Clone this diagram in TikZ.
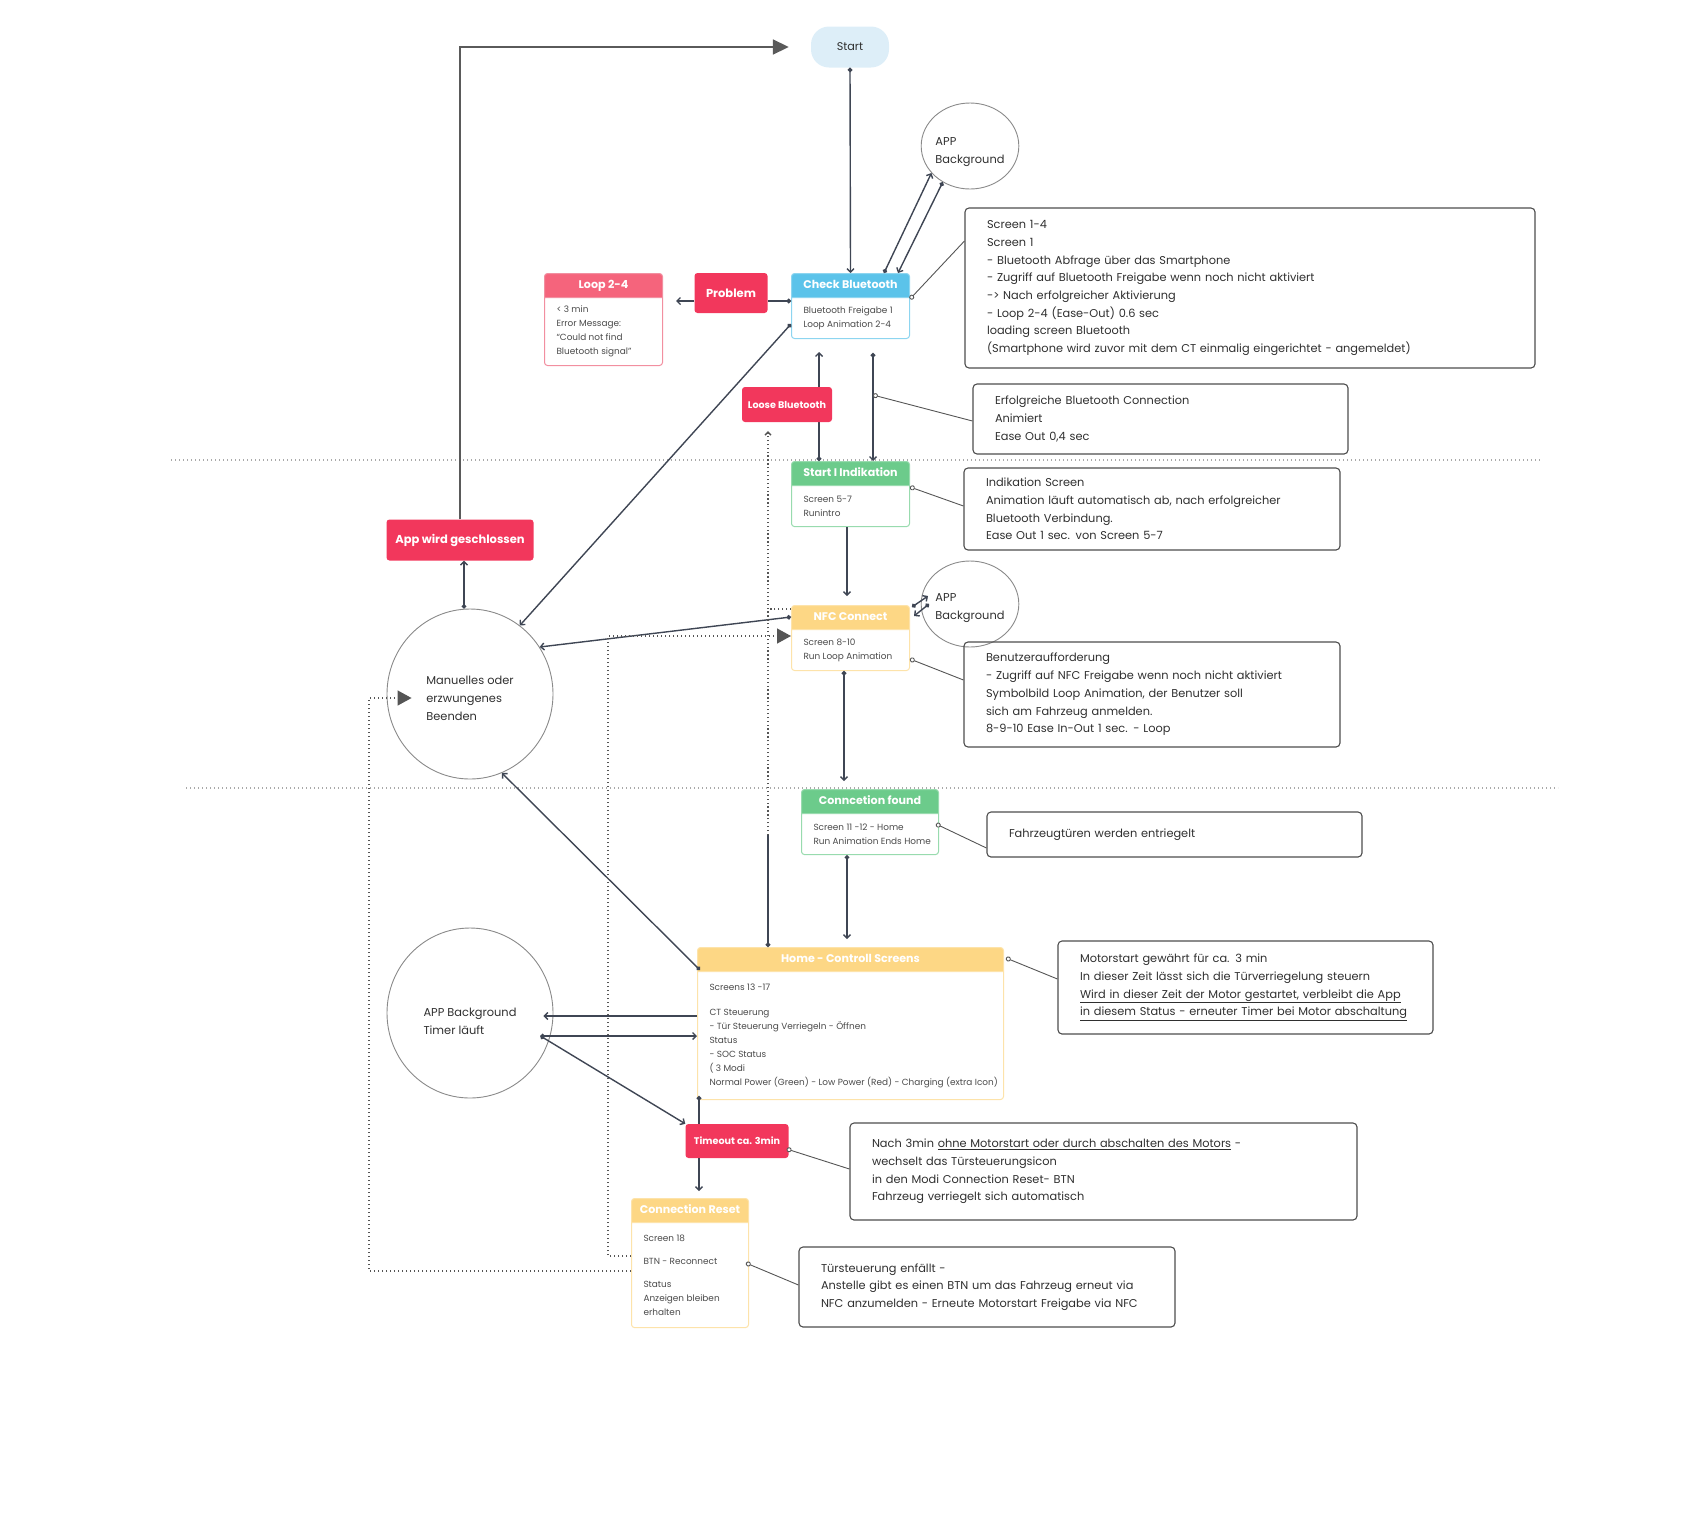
\documentclass[tikz,border=0pt]{standalone}
\usepackage{fontspec}
\setmainfont{Poppins}
\usetikzlibrary{positioning}
\usetikzlibrary{shapes.multipart,shapes.geometric}
\usetikzlibrary{arrows.meta,calc}

\definecolor{btblue}{HTML}{5BC3EA}
\definecolor{btblueline}{HTML}{8DD5F0}
\definecolor{okgreen}{HTML}{6CCB8B}
\definecolor{okgreenline}{HTML}{98DBAE}
\definecolor{nfcyellow}{HTML}{FDD785}
\definecolor{nfcyellowline}{HTML}{FDE3AA}
\definecolor{looppink}{HTML}{F5647C}
\definecolor{looppinkline}{HTML}{F28FA0}
\definecolor{errred}{HTML}{F2375C}
\definecolor{startblue}{HTML}{DDEEF8}
\definecolor{lineclr}{HTML}{3F4654}
\definecolor{linkclr}{HTML}{555555}
\definecolor{dotclr}{HTML}{555555}
\definecolor{sepclr}{HTML}{A9A9A9}
\definecolor{bigclr}{HTML}{5A5A5A}
\definecolor{bubclr}{HTML}{8A8A8A}
\definecolor{noteclr}{HTML}{4D4D4D}
\definecolor{txtclr}{HTML}{2F2F2F}
\definecolor{bodyclr}{HTML}{4A4A4A}

\newcommand{\hdfont}{\fontsize{11.1}{12.6}\selectfont\bfseries}
\newcommand{\smfont}{\fontsize{8.9}{14}\selectfont}
\newcommand{\ntfont}{\fontsize{11.35}{17.7}\selectfont}
\newcommand{\bbfont}{\fontsize{11.4}{18}\selectfont}
\newcommand{\stfont}{\fontsize{11.2}{13}\selectfont}
% header text takes no width, so the card keeps its size
\newcommand{\hdtxt}[1]{{\hdfont\color{white}\strut\makebox[0pt]{#1}}}
\newcommand{\cardbody}[3]{\parbox[c][#1pt][c]{#2pt}{\smfont\raggedright #3}}
% taller first line pushes the bubble text down
\newcommand{\bbdown}[1]{\rule{0pt}{#1pt}}

\tikzstyle{card}=[rectangle split, rectangle split parts=2, rectangle split part align={center,left}, rounded corners=3pt, line width=1pt, inner xsep=12pt, inner ysep=5.2pt, anchor=north west, text=bodyclr]
\tikzstyle{bluecard}=[card, draw=btblueline, rectangle split part fill={btblue,white}]
\tikzstyle{greencard}=[card, draw=okgreenline, rectangle split part fill={okgreen,white}]
\tikzstyle{yellowcard}=[card, draw=nfcyellowline, rectangle split part fill={nfcyellow,white}]
\tikzstyle{pinkcard}=[card, draw=looppinkline, rectangle split part fill={looppink,white}]
\tikzstyle{errbox}=[fill=errred, rounded corners=3pt, text=white, inner sep=0pt, font=\fontsize{11.5}{13}\selectfont\bfseries]
\tikzstyle{startbox}=[fill=startblue, rounded corners=18pt, minimum width=78, minimum height=41, font=\stfont, text=txtclr]
\tikzstyle{bubble}=[ellipse, draw=bubclr, line width=0.9pt, align=left, inner sep=0pt, font=\bbfont, text=txtclr]
\tikzstyle{note}=[draw=noteclr, line width=1.1pt, rounded corners=4pt, align=left, inner xsep=22pt, inner ysep=0pt, font=\ntfont, text=txtclr]
\tikzstyle{flow}=[draw=lineclr, line width=1.4pt, {Circle[length=4.5pt]}-{Straight Barb[length=3.5pt,width=7pt]}]
\tikzstyle{flowarr}=[draw=lineclr, line width=1.4pt, -{Straight Barb[length=3.5pt,width=7pt]}]
\tikzstyle{flowdot}=[draw=lineclr, line width=1.4pt, {Circle[length=4.5pt]}-]
\tikzstyle{link}=[draw=linkclr, line width=0.9pt, {Circle[length=5pt,fill=white]}-]
\tikzstyle{dotflow}=[draw=dotclr, line width=1.4pt, dash pattern=on 1.4pt off 2.6pt, -{Triangle[length=14pt,width=15pt]}]
\tikzstyle{dotthin}=[draw=dotclr, line width=1.3pt, dash pattern=on 1.3pt off 2.6pt]
\tikzstyle{sepline}=[draw=sepclr, line width=1.2pt, dash pattern=on 1.2pt off 2.8pt]
\tikzstyle{bigarrow}=[draw=bigclr, line width=1.8pt, -{Triangle[length=16pt,width=15pt]}]

\begin{document}
\begin{tikzpicture}[x=1pt, y=-1pt]
  \useasboundingbox (0,0) rectangle (1700,1532);

  \def\bw{94};

  % dotted separators
  \foreach \y/\xa/\xb in {460/171/1542, 788/186/1558}
    \draw[sepline] (\xa,\y) -- (\xb,\y);

  \node[startbox] (start) at (850,47) {Start};
  \node[bubble, minimum width=96, minimum height=86] (ab1) at (970,146) {\bbdown{21}APP\\Background};
  \node[bubble, minimum width=96, minimum height=86] (ab2) at (970,604) {\bbdown{17}APP\\Background};
  \node[bubble, minimum width=166, minimum height=170] (mb) at (470,694) {\bbdown{17}Manuelles oder\\erzwungenes\\Beenden};
  \node[bubble, minimum width=166, minimum height=170] (tc) at (470,1013) {\bbdown{26}APP Background\\Timer läuft};

  % cards
  \node[bluecard] (cb) at (791,273) {\hdtxt{Check Bluetooth}\nodepart{two}\cardbody{29.6}{\bw}{Bluetooth Freigabe 1\\Loop Animation 2-4}};
  \node[pinkcard] (loop) at (544,273) {\hdtxt{Loop 2-4}\nodepart{two}\cardbody{56.6}{\bw}{< 3 min\\Error Message:\\“Could not find\\Bluetooth signal”}};
  \node[greencard] (si) at (791,461) {\hdtxt{Start I Indikation}\nodepart{two}\cardbody{29.6}{\bw}{Screen 5-7\\Runintro}};
  \node[yellowcard] (nfc) at (791,605) {\hdtxt{NFC Connect}\nodepart{two}\cardbody{29.6}{\bw}{Screen 8-10\\Run Loop Animation}};
  \node[greencard] (cf) at (801,789) {\hdtxt{Conncetion found}\nodepart{two}\cardbody{29.6}{113}{Screen 11 -12 - Home\\\mbox{Run Animation Ends Home}}};
  \node[yellowcard] (home) at (697,947) {\hdtxt{Home - Controll Screens}\nodepart{two}\cardbody{116.6}{282}{Screens 13 -17\\[11pt]CT Steuerung\\- Tür Steuerung Verriegeln - Öffnen\\Status\\- SOC Status\\( 3 Modi\\\mbox{Normal Power (Green) - Low Power (Red) - Charging (extra Icon)}}};
  \node[yellowcard] (cr) at (631,1198) {\hdtxt{Connection Reset}\nodepart{two}\cardbody{93.6}{93}{Screen 18\\[9pt]BTN - Reconnect\\[9pt]Status\\Anzeigen bleiben\\erhalten}};

  \node[errbox, minimum width=73, minimum height=40] (prob) at (731,293) {Problem};
  \node[errbox, minimum width=147, minimum height=41] (app) at (460,540) {App wird geschlossen};
  \node[errbox, minimum width=103, minimum height=34, font=\fontsize{9.6}{11}\selectfont\bfseries] (tmo) at (737,1141) {Timeout ca. 3min};

  % notes
  \node[note, text width=526, minimum height=160] (n1) at (1250,288) {Screen 1-4\\Screen 1\\- Bluetooth Abfrage über das Smartphone\\- Zugriff auf Bluetooth Freigabe wenn noch nicht aktiviert\\-> Nach erfolgreicher Aktivierung\\- Loop 2-4 (Ease-Out) 0.6 sec\\loading screen Bluetooth\\(Smartphone wird zuvor mit dem CT einmalig eingerichtet - angemeldet)};
  \node[note, text width=331, minimum height=70] (n2) at (1160.5,419) {Erfolgreiche Bluetooth Connection\\Animiert\\Ease Out 0,4 sec};
  \node[note, text width=332, minimum height=82] (n3) at (1152,509) {Indikation Screen\\Animation läuft automatisch ab, nach erfolgreicher\\Bluetooth Verbindung.\\Ease Out 1 sec. von Screen 5-7};
  \node[note, text width=332, minimum height=105] (n4) at (1152,694.5) {Benutzeraufforderung\\- Zugriff auf NFC Freigabe wenn noch nicht aktiviert\\Symbolbild Loop Animation, der Benutzer soll\\sich am Fahrzeug anmelden.\\8-9-10 Ease In-Out 1 sec. - Loop};
  \node[note, text width=331, minimum height=45] (n5) at (1174.5,834.5) {Fahrzeugtüren werden entriegelt};
  \node[note, text width=331, minimum height=93] (n6) at (1245.5,987.5) {Motorstart gewährt für ca. 3 min\\In dieser Zeit lässt sich die Türverriegelung steuern\\\underline{Wird in dieser Zeit der Motor gestartet, verbleibt die App}\\\underline{in diesem Status - erneuter Timer bei Motor abschaltung}};
  \node[note, text width=463, minimum height=97] (n7) at (1103.5,1171.5) {Nach 3min \underline{ohne Motorstart oder durch abschalten des Motors} -\\wechselt das Türsteuerungsicon\\in den Modi Connection Reset- BTN\\Fahrzeug verriegelt sich automatisch};
  \node[note, text width=332, minimum height=80] (n8) at (987,1287) {Türsteuerung enfällt -\\Anstelle gibt es einen BTN um das Fahrzeug erneut via\\NFC anzumelden - Erneute Motorstart Freigabe via NFC};

  % main flow
  \draw[bigarrow] (app.north) -- (app.north |- start.west) -- ([xshift=-22pt]start.west);
  \draw[flow] (start.south) -- (cb.north);
  \draw[flow] (cb.north -| 884,0) -- (ab1.-145);
  \draw[flow] (ab1.-127) -- (cb.north -| 898,0);
  \draw[flowdot] (cb.west |- 0,301) -- (prob.east |- 0,301);
  \coordinate (lpend) at (676,301);
  \draw[flowarr] (prob.west |- 0,301) -- (lpend);
  \draw[flow] (cb.south west |- 0,324) -- (mb.54);
  \draw[flow, shorten >=13pt] (si.north -| 819,0) -- (cb.south -| 819,0);
  \node[errbox, minimum width=90, minimum height=35, font=\fontsize{9.6}{11}\selectfont\bfseries] (lb) at (787,404.5) {Loose Bluetooth};
  \draw[flow, shorten <=14pt] (cb.south -| 873,0) -- (si.north -| 873,0);
  \draw[flowarr, shorten >=9pt] (si.south -| 847,0) -- (nfc.north -| 847,0);
  \draw[flow] ($(nfc.north east)+(2,2)$) -- ($(ab2.center)+(-42,-8)$);
  \draw[flow] ($(ab2.center)+(-41,0)$) -- ($(nfc.north east)+(4,11)$);
  \draw[flow] (nfc.west |- 0,617) -- (mb.34);
  \draw[flow, shorten >=8pt] (nfc.south -| 844,0) -- (cf.north -| 844,0);
  \draw[flow, shorten >=8pt] (cf.south -| 847,0) -- (home.north -| 847,0);
  \draw[flow] ($(home.north west)+(3,23)$) -- (mb.-68);
  \draw[flow] ([xshift=-6pt]mb.north) -- ([xshift=4pt]app.south);
  \draw[flowarr] (home.west |- 0,1016) -- ($(tc.east)+(-10,3)$);
  \draw[flow] ($(tc.east)+(-13,23)$) -- (home.west |- 0,1036);
  \draw[flow] ($(tc.east)+(-13,23)$) -- (tmo.north west);
  \draw[flowdot] ($(home.south west)+(2,-4)$) -- (tmo.north -| 699,0);
  \draw[flowarr, shorten >=7pt] (tmo.south -| 699,0) -- (cr.north -| 699,0);

  % home -> loose bluetooth
  \coordinate (lbturn) at (768,835);
  \draw[flowdot] (home.north -| lbturn) -- (lbturn);
  \draw[dotthin, -{Straight Barb[length=3pt,width=6pt]}, shorten >=9pt] (lbturn) -- (lb.south -| lbturn);
  \draw[dotthin] ($(nfc.north west)+(0,4)$) -- (lbturn |- 0,609);

  % reconnect / beenden
  \draw[dotflow] (cr.west |- 0,1256) -| (608,636) -- (nfc.west |- 0,636);
  \draw[dotflow] (cr.west |- 0,1271) -| (369,698) -- ($(mb.west)+(25,4)$);

  % note links
  \coordinate (c2) at (873,395);
  \draw[link] (cb.east |- 0,299) -- (n1.west |- 0,241);
  \draw[link] (c2) -- (n2.west |- 0,421);
  \draw[link] (si.east |- 0,487) -- (n3.west |- 0,506);
  \draw[link] (nfc.east |- 0,659) -- (n4.west |- 0,680);
  \draw[link] ($(cf.east |- 0,824)+(-3,0)$) -- (n5.west |- 0,848);
  \draw[link] ($(home.east |- 0,958)+(2,0)$) -- (n6.west |- 0,979);
  \draw[link] ($(tmo.east |- 0,1149)+(-2,0)$) -- (n7.west |- 0,1169);
  \draw[link] ($(cr.east |- 0,1263)+(-3,0)$) -- (n8.west |- 0,1285);

\end{tikzpicture}
\end{document}
